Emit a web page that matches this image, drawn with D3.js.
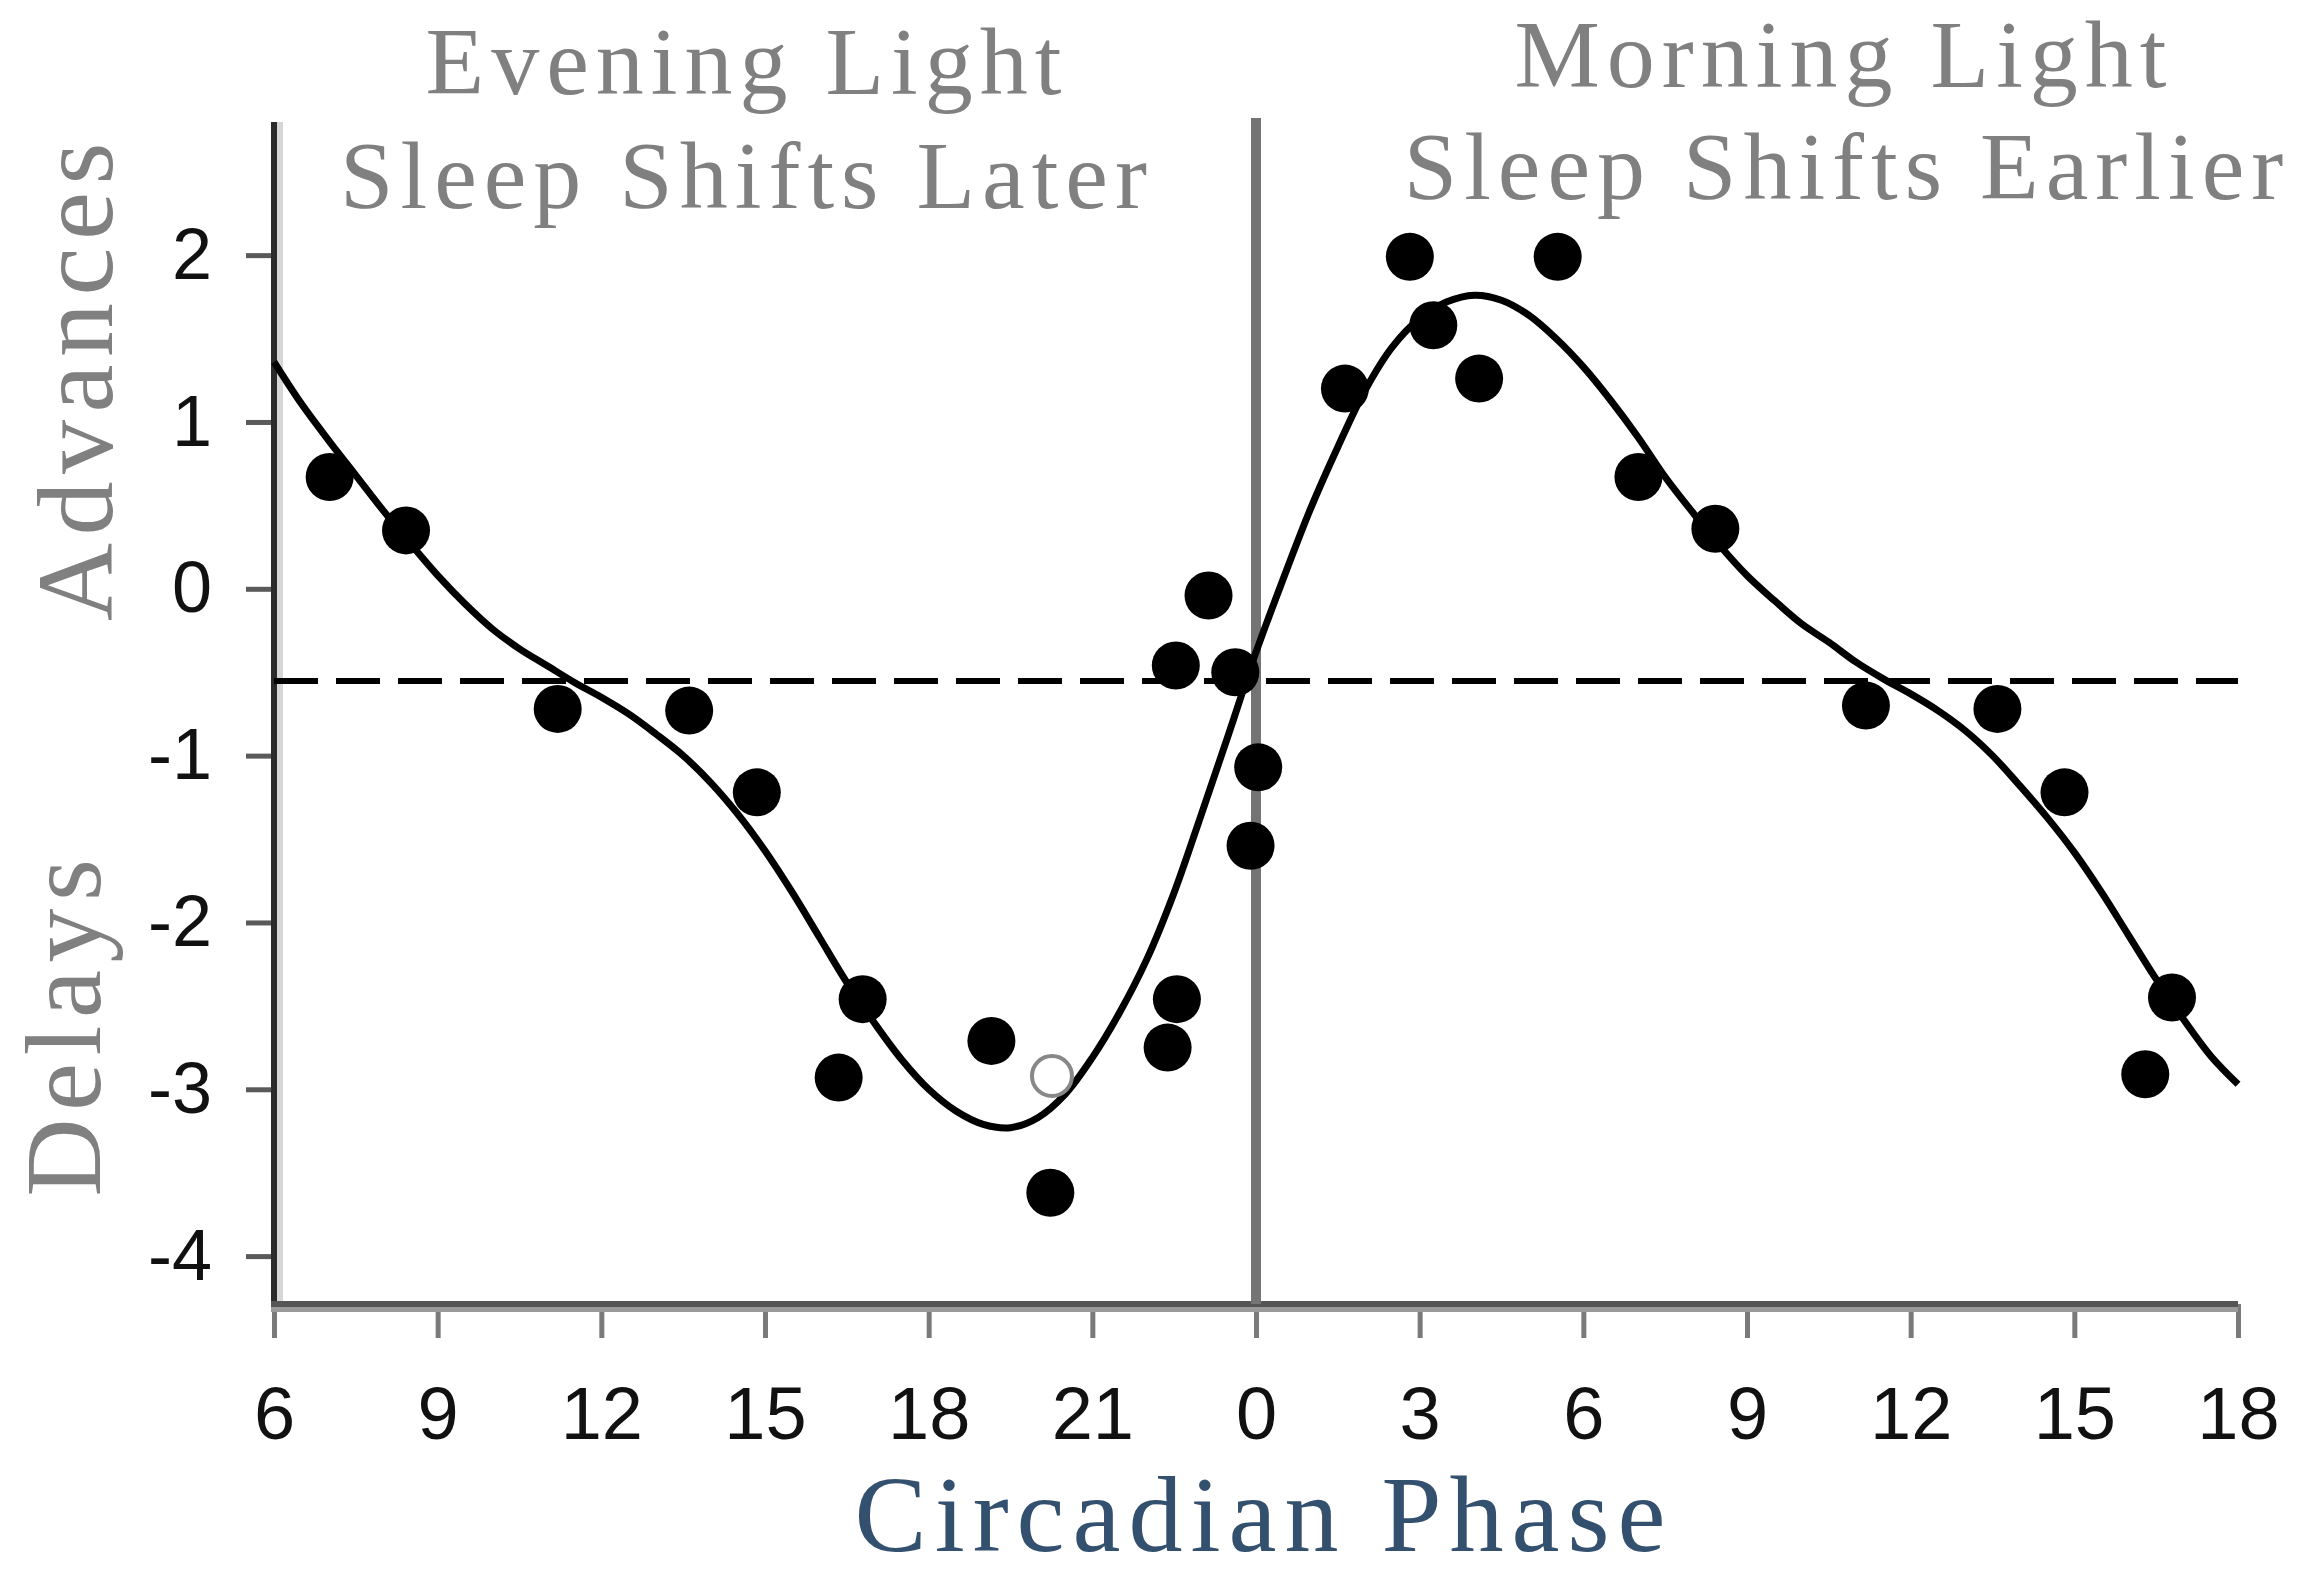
<!DOCTYPE html>
<html>
<head>
<meta charset="utf-8">
<script src="https://cdn.jsdelivr.net/npm/d3@7"></script>
<style>
  html, body { margin: 0; padding: 0; background: #ffffff; }
  svg { display: block; }
</style>
</head>
<body>
<svg id="chart" width="2298" height="1575"></svg>
<script>
// ---------------- data ----------------
const xTickValues = [6, 9, 12, 15, 18, 21, 24, 27, 30, 33, 36, 39, 42];
const xTickLabels = ["6", "9", "12", "15", "18", "21", "0", "3", "6", "9", "12", "15", "18"];
const yTickValues = [-4, -3, -2, -1, 0, 1, 2];
const yTickLabels = ["-4", "-3", "-2", "-1", "0", "1", "2"];

// filled circles: circadian phase (hours, continuous) and phase shift (h)
const pointHours  = [7.02, 8.42, 11.20, 13.61, 14.85, 16.35, 16.79, 19.15, 20.23, 22.38, 22.55, 22.53, 23.13, 23.62, 24.04, 23.90,
                     25.63, 26.82, 27.25, 28.09, 29.53, 31.01, 32.42, 35.18, 37.59, 38.82, 40.30, 40.79];
const pointShifts = [0.67, 0.35, -0.72, -0.73, -1.22, -2.93, -2.46, -2.71, -3.62, -2.75, -2.46, -0.46, -0.04, -0.50, -1.07, -1.54,
                     1.20, 1.99, 1.58, 1.26, 1.99, 0.67, 0.36, -0.70, -0.72, -1.22, -2.91, -2.45];
// open circle
const openHours  = [20.26];
const openShifts = [-2.92];

// fitted curve (read every half hour)
const curveHours  = [6.0, 6.5, 7.0, 7.5, 8.0, 8.5, 9.0, 9.5, 10.0, 10.5, 11.0, 11.5, 12.0, 12.5, 13.0, 13.5, 14.0, 14.5,
                     15.0, 15.5, 16.0, 16.5, 17.0, 17.5, 18.0, 18.5, 19.0, 19.5, 20.0, 20.5, 21.0, 21.5, 22.0, 22.5, 23.0, 23.5,
                     24.0, 24.5, 25.0, 25.5, 26.0, 26.5, 27.0, 27.5, 28.0, 28.5, 29.0, 29.5, 30.0, 30.5, 31.0, 31.5, 32.0, 32.5,
                     33.0, 33.5, 34.0, 34.5, 35.0, 35.5, 36.0, 36.5, 37.0, 37.5, 38.0, 38.5, 39.0, 39.5, 40.0, 40.5, 41.0, 41.5, 42.0];
const curveShifts = [1.36, 1.11, 0.89, 0.68, 0.47, 0.27, 0.08, -0.09, -0.24, -0.36, -0.46, -0.56, -0.65, -0.75, -0.87, -1.00, -1.16, -1.35,
                     -1.57, -1.82, -2.09, -2.36, -2.60, -2.82, -3.00, -3.13, -3.21, -3.23, -3.17, -3.03, -2.81, -2.54, -2.22, -1.82, -1.35, -0.87,
                     -0.38, 0.06, 0.48, 0.85, 1.19, 1.45, 1.62, 1.72, 1.76, 1.73, 1.64, 1.50, 1.33, 1.13, 0.91, 0.67, 0.46, 0.26,
                     0.08, -0.07, -0.21, -0.32, -0.44, -0.54, -0.63, -0.73, -0.85, -1.00, -1.18, -1.37, -1.58, -1.82, -2.08, -2.34, -2.58, -2.80, -2.97];

const thresholdShift = -0.553;   // dashed line
const dividerHour = 24;          // vertical line at phase 0

const panelTitlesLeft  = ["Evening Light", "Sleep Shifts Later"];
const panelTitlesRight = ["Morning Light", "Sleep Shifts Earlier"];
const yTitleTop = "Advances";
const yTitleBottom = "Delays";
const xTitle = "Circadian Phase";

// ---------------- layout ----------------
const svg = d3.select("#chart");
const plotLeft = 274, plotRight = 2238, plotTop = 122, plotBottom = 1304;

const x = d3.scaleLinear().domain([6, 42]).range([plotLeft, plotRight]);
const y = d3.scaleLinear().domain([-4.287, 2.81]).range([plotBottom, 120]);

// ---------------- axes ----------------
const xAxis = d3.axisBottom(x)
  .tickValues(xTickValues)
  .tickFormat((d, i) => xTickLabels[i])
  .tickSize(34)
  .tickPadding(48);
const gx = svg.append("g").attr("transform", `translate(0,${plotBottom})`).call(xAxis);
gx.select(".domain").remove();
gx.selectAll(".tick line").attr("stroke", "#7a7a7a").attr("stroke-width", 5);
gx.selectAll(".tick text")
  .attr("font-family", "'Liberation Sans', Arial, sans-serif")
  .attr("font-size", 74).attr("fill", "#111");

const yAxis = d3.axisLeft(y)
  .tickValues(yTickValues)
  .tickFormat((d, i) => yTickLabels[i])
  .tickSize(28)
  .tickPadding(34);
const gy = svg.append("g").attr("transform", `translate(${plotLeft},0)`).call(yAxis);
gy.select(".domain").remove();
gy.selectAll(".tick line").attr("stroke", "#5a5a5a").attr("stroke-width", 5);
gy.selectAll(".tick text")
  .attr("font-family", "'Liberation Sans', Arial, sans-serif")
  .attr("font-size", 72).attr("fill", "#111");

// axis lines (dark core + light edge as in the reference)
svg.append("line").attr("x1", plotLeft + 6).attr("x2", plotLeft + 6).attr("y1", plotTop).attr("y2", plotBottom)
  .attr("stroke", "#d6d6d6").attr("stroke-width", 6);
svg.append("line").attr("x1", plotLeft).attr("x2", plotLeft).attr("y1", plotTop).attr("y2", plotBottom + 3)
  .attr("stroke", "#2b2b2b").attr("stroke-width", 6);
svg.append("line").attr("x1", plotLeft - 3).attr("x2", plotRight).attr("y1", plotBottom + 5).attr("y2", plotBottom + 5)
  .attr("stroke", "#9a9a9a").attr("stroke-width", 6);
svg.append("line").attr("x1", plotLeft - 3).attr("x2", plotRight).attr("y1", plotBottom).attr("y2", plotBottom)
  .attr("stroke", "#555555").attr("stroke-width", 6);

// ---------------- reference lines ----------------
svg.append("line")
  .attr("x1", x(dividerHour)).attr("x2", x(dividerHour))
  .attr("y1", 118).attr("y2", plotBottom)
  .attr("stroke", "#747474").attr("stroke-width", 10);

svg.append("line")
  .attr("x1", x(6)).attr("x2", x(42))
  .attr("y1", y(thresholdShift)).attr("y2", y(thresholdShift))
  .attr("stroke", "#000").attr("stroke-width", 6)
  .attr("stroke-dasharray", "44,18");

// ---------------- curve ----------------
const curveData = curveHours.map((h, i) => [h, curveShifts[i]]);
svg.append("path")
  .datum(curveData)
  .attr("fill", "none")
  .attr("stroke", "#000")
  .attr("stroke-width", 7)
  .attr("stroke-linejoin", "round")
  .attr("d", d3.line().x(d => x(d[0])).y(d => y(d[1])).curve(d3.curveCatmullRom.alpha(0.5)));

// ---------------- points ----------------
svg.append("g").selectAll("circle")
  .data(pointHours.map((h, i) => [h, pointShifts[i]]))
  .join("circle")
  .attr("cx", d => x(d[0])).attr("cy", d => y(d[1]))
  .attr("r", 24).attr("fill", "#000");

svg.append("g").selectAll("circle")
  .data(openHours.map((h, i) => [h, openShifts[i]]))
  .join("circle")
  .attr("cx", d => x(d[0])).attr("cy", d => y(d[1]))
  .attr("r", 20).attr("fill", "#fff").attr("stroke", "#888").attr("stroke-width", 4);

// ---------------- texts ----------------
const serif = "'Liberation Serif', 'Times New Roman', serif";
function title(txt, cx, base, size, color) {
  svg.append("text").text(txt)
    .attr("x", cx).attr("y", base)
    .attr("text-anchor", "middle")
    .attr("font-family", serif).attr("font-size", size)
    .attr("fill", color)
    .style("letter-spacing", "7px");
}
title(panelTitlesLeft[0], 747, 94, 96, "#808080");
title(panelTitlesLeft[1], 747, 208, 96, "#808080");
title(panelTitlesRight[0], 1844, 87, 96, "#808080");
title(panelTitlesRight[1], 1847, 199, 96, "#808080");

function vtitle(txt, base, cy) {
  svg.append("text").text(txt)
    .attr("transform", `translate(${base},${cy}) rotate(-90)`)
    .attr("text-anchor", "middle")
    .attr("font-family", serif).attr("font-size", 108)
    .attr("fill", "#808080")
    .style("letter-spacing", "7.5px");
}
vtitle(yTitleTop, 112, 378);
vtitle(yTitleBottom, 100, 1024);

svg.append("text").text(xTitle)
  .attr("x", 1264).attr("y", 1551)
  .attr("text-anchor", "middle")
  .attr("font-family", serif).attr("font-size", 108)
  .attr("fill", "#34506f")
  .style("letter-spacing", "8px");
</script>
</body>
</html>
